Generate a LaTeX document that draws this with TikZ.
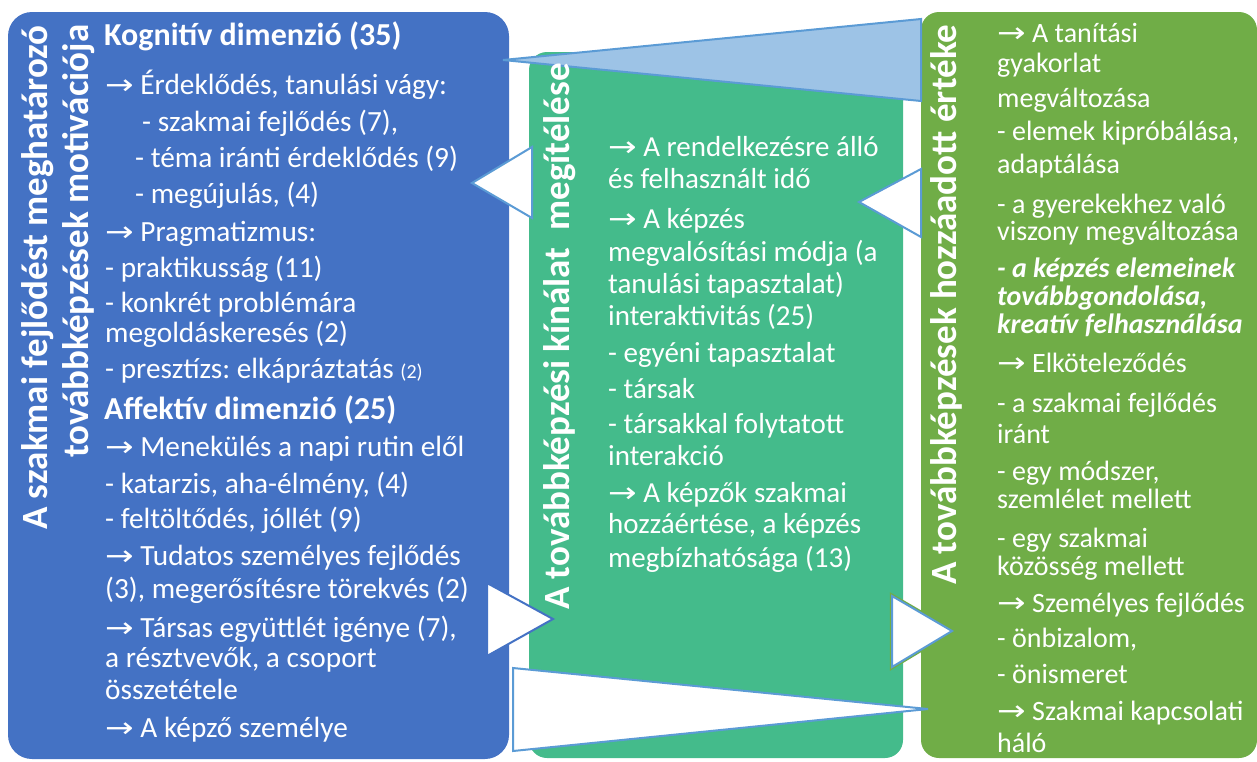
\documentclass[tikz,border=0pt]{standalone}
\usepackage{fontspec}
\usepackage{graphicx}
\setmainfont{Carlito}
\newfontfamily\symf{DejaVu Sans}
\definecolor{bluebox}{HTML}{4472C4}
\definecolor{tealbox}{HTML}{44BB8B}
\definecolor{limebox}{HTML}{70AD47}
\definecolor{tribl}{HTML}{9DC3E6}
\definecolor{tristroke}{HTML}{5B9BD5}
\newcommand\ar{\scalebox{1.22}[1]{\symf\fontsize{28}{28}\selectfont →}}
\newcommand\tl[4]{\node[tx] (#1) at (#2,#3) {#4};}
\tikzset{
  tx/.style={anchor=base west, inner sep=0pt, text=white, font=\frenchspacing\fontsize{29.3}{32}\selectfont},
  txg/.style={tx, font=\frenchspacing\fontsize{29}{32}\selectfont},
  txl/.style={tx, font=\frenchspacing\fontsize{28}{32}\selectfont},
  hd/.style={tx, font=\bfseries\fontsize{32}{34}\selectfont},
  ttl/.style={anchor=base west, inner sep=0pt, text=white, rotate=90, font=\bfseries\fontsize{37}{39}\selectfont},
  tri/.style={fill=white, draw=tristroke, line width=2pt, line join=miter},
}
\newcommand\tg[4]{\node[txg] (#1) at (#2,#3) {#4};}
\newcommand\tlm[4]{\node[txl] (#1) at (#2,#3) {#4};}
\begin{document}
\begin{tikzpicture}[x=1pt,y=-1pt]
\useasboundingbox (0,0) rectangle (1257,761);
% boxes
\fill[bluebox, rounded corners=24pt] (8,12) rectangle (509,759);
\fill[tealbox, rounded corners=18pt] (529,52) rectangle (903,758);
\fill[limebox, rounded corners=18pt] (921,12) rectangle (1257,758);
% triangles
\filldraw[fill=tribl, draw=tristroke, line width=2pt] (503,60) -- (921,19) -- (921,101) -- cycle;
\filldraw[tri] (472,183) -- (532,147) -- (532,218) -- cycle;
\filldraw[tri] (859,202) -- (921,169) -- (921,237) -- cycle;
\filldraw[tri, draw=bluebox] (487,583) -- (553,619) -- (487,656) -- cycle;
\draw[limebox, line width=4.5pt] (892,596) -- (952,631) -- (892,667) -- cycle;
\filldraw[tri] (892,596) -- (952,631) -- (892,667) -- cycle;
\filldraw[tri] (513,668) -- (928,709) -- (513,751) -- cycle;
% rotated titles
\node[ttl] (b1) at (47,530) {A szakmai fejlődést meghatározó};
\node[ttl] (b2) at (88,458) {továbbképzések motivációja};
\node[ttl] (g1) at (569,610) {A továbbképzési kínálat\ \ megítélése};
\node[ttl] (l1) at (956,585) {A továbbképzések hozzáadott értéke};
% blue column
\node[hd] (k1) at (104,45) {Kognitív dimenzió (35)};
\tl{k2}{105}{94}{\ar\ Érdeklődés, tanulási vágy:}
\tl{k3}{142}{131}{- szakmai fejlődés (7),}
\tl{k4}{135}{167}{- téma iránti érdeklődés (9)}
\tl{k5}{135}{203}{- megújulás, (4)}
\tl{k6}{105}{241}{\ar\ Pragmatizmus:}
\tl{k7}{105}{277}{- praktikusság (11)}
\tl{k8}{105}{312}{- konkrét problémára}
\tl{k9}{105}{342}{megoldáskeresés (2)}
\tl{k10}{105}{378}{- presztízs: elkápráztatás {\fontsize{20}{20}\selectfont (2)}}
\node[hd] (a1) at (104,419) {Affektív dimenzió (25)};
\tl{a2}{105}{456}{\ar\ Menekülés a napi rutin elől}
\tl{a3}{105}{493}{- katarzis, aha-élmény, (4)}
\tl{a4}{105}{528}{- feltöltődés, jóllét (9)}
\tl{a5}{105}{565}{\ar\ Tudatos személyes fejlődés}
\tl{a6}{105}{598}{(3), megerősítésre törekvés (2)}
\tl{a7}{105}{637}{\ar\ Társas együttlét igénye (7),}
\tl{a8}{105}{667}{a résztvevők, a csoport}
\tl{a9}{105}{699}{összetétele}
\tl{a10}{105}{737}{\ar\ A képző személye}
% teal column
\tg{t1}{608}{156}{\ar\ A rendelkezésre álló}
\tg{t2}{608}{188}{és felhasznált idő}
\tg{t3}{608}{228}{\ar\ A képzés}
\tg{t4}{608}{261}{megvalósítási módja (a}
\tg{t5}{608}{293}{tanulási tapasztalat)}
\tg{t6}{608}{325}{interaktivitás (25)}
\tg{t7}{608}{362}{- egyéni tapasztalat}
\tg{t8}{608}{398}{- társak}
\tg{t9}{608}{433}{- társakkal folytatott}
\tg{t10}{608}{465}{interakció}
\tg{t11}{608}{502}{\ar\ A képzők szakmai}
\tg{t12}{608}{533}{hozzáértése, a képzés}
\tg{t13}{608}{567}{megbízhatósága (13)}
% lime column
\tlm{l2}{997}{42}{\ar\ A tanítási}
\tlm{l3}{997}{72}{gyakorlat}
\tlm{l4}{997}{107}{megváltozása}
\tlm{l5}{997}{140}{- elemek kipróbálása,}
\tlm{l6}{997}{173}{adaptálása}
\tlm{l7}{997}{213}{- a gyerekekhez való}
\tlm{l8}{997}{240}{viszony megváltozása}
\tlm{l9}{997}{277}{\bfseries\itshape - a képzés elemeinek}
\tlm{l10}{997}{305}{\bfseries\itshape továbbgondolása,}
\tlm{l11}{997}{333}{\bfseries\itshape kreatív felhasználása}
\tlm{l12}{997}{372}{\ar\ Elköteleződés}
\tlm{l13}{997}{412}{- a szakmai fejlődés}
\tlm{l14}{997}{443}{iránt}
\tlm{l15}{997}{480}{- egy módszer,}
\tlm{l16}{997}{508}{szemlélet mellett}
\tlm{l17}{997}{547}{- egy szakmai}
\tlm{l18}{997}{575}{közösség mellett}
\tlm{l19}{997}{612}{\ar\ Személyes fejlődés}
\tlm{l20}{997}{647}{- önbizalom,}
\tlm{l21}{997}{683}{- önismeret}
\tlm{l22}{997}{720}{\ar\ Szakmai kapcsolati}
\tlm{l23}{997}{752}{háló}
\end{tikzpicture}
\end{document}
